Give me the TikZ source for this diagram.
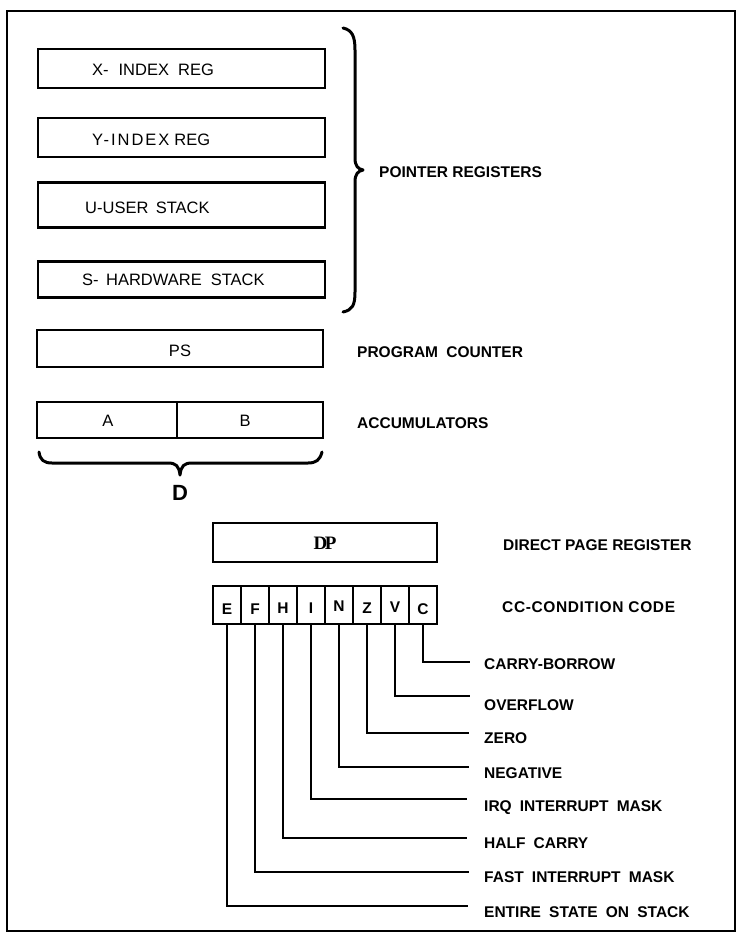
\documentclass[tikz,border=0pt]{standalone}
\usepackage{fontspec}
\setmainfont{Liberation Sans}
\newfontfamily\lblfont{Liberation Sans}[WordSpace=1.9]
\newfontfamily\spcfont{Liberation Sans}[LetterSpace=4]
\newfontfamily\wideregfont{Liberation Sans}[LetterSpace=12]
\newfontfamily\dpfont{Liberation Serif}
\begin{document}
\begin{tikzpicture}[x=1pt,y=-1pt,
  regbox/.style={draw, line width=2.8pt, inner sep=0pt},
  cell/.style={draw, line width=2.2pt, inner sep=0pt, minimum width=28pt, minimum height=38pt},
  celltxt/.style={font=\fontsize{15.5}{17}\selectfont\bfseries},
  regtxt/.style={anchor=west, inner sep=0pt, font=\fontsize{16.5}{19}\selectfont},
  ctxt/.style={inner sep=0pt, font=\fontsize{16.5}{19}\selectfont},
  lbl/.style={anchor=west, inner sep=0pt, font=\lblfont\fontsize{15.5}{18}\selectfont\bfseries},
  plainlbl/.style={anchor=west, inner sep=0pt, font=\fontsize{15.5}{18}\selectfont\bfseries},
  conn/.style={line width=1.5pt},
  bracepath/.style={line width=3pt, line cap=round, line join=round}]
\useasboundingbox (0,0) rectangle (737,934);
\fill[white] (0,0) rectangle (737,934);
% frame
\draw[line width=2.5pt] (7,11) rectangle (735,931);

% pointer registers
\node[regbox, minimum width=287pt, minimum height=39pt] (X) at (181.5,68.5) {};
\node[regbox, minimum width=287pt, minimum height=39pt] (Y) at (181.5,137.5) {};
\node[regbox, minimum width=287pt, minimum height=45pt] (U) at (181.5,205) {};
\node[regbox, minimum width=287pt, minimum height=36pt] (S) at (181.5,279.5) {};
\node[regtxt] (Xt) at (92,70) {X-\hspace{0.6em}INDEX\hspace{0.55em}REG};
\node[regtxt] (Yt) at (92,140) {{\wideregfont Y-INDEX}\hspace{0.3em}REG};
\node[regtxt] (Ut) at (85,208) {U-USER\hspace{0.45em}STACK};
\node[regtxt] (St) at (82,280) {S-\hspace{0.45em}HARDWARE\hspace{0.55em}STACK};

% right brace
\draw[bracepath] (343,28) .. controls (352,30) and (355,36) .. (355,50) -- (355,158)
  .. controls (355,166) and (358,169) .. (363,170)
  .. controls (358,171) and (355,174) .. (355,182) -- (355,292)
  .. controls (355,306) and (352,310) .. (343,312);
\node[plainlbl] (PR) at (379,172) {POINTER REGISTERS};

% program counter
\node[regbox, minimum width=286pt, minimum height=37pt] (PC) at (180,348.5) {};
\node[ctxt] (PSt) at (180,351) {PS};
\node[lbl] (PCl) at (357,352) {PROGRAM COUNTER};

% accumulators
\node[regbox, minimum width=140pt, minimum height=36pt] (A) at (107,420) {};
\node[regbox, minimum width=146pt, minimum height=36pt] (B) at (250,420) {};
\node[ctxt] (At) at (108,421) {A};
\node[ctxt] (Bt) at (245,421) {B};
\node[plainlbl] (ACl) at (357,423) {ACCUMULATORS};

% bottom brace
\draw[bracepath] (39,452) .. controls (40,460) and (44,463) .. (52,463) -- (168,463)
  .. controls (176,463) and (179,466) .. (180,475)
  .. controls (181,466) and (184,463) .. (192,463) -- (308,463)
  .. controls (316,463) and (320,460) .. (322,452);
\node[inner sep=0pt, font=\fontsize{22}{24}\selectfont\bfseries] (D) at (180,493) {D};

% direct page
\node[regbox, minimum width=224pt, minimum height=39pt] (DP) at (325,542.5) {};
\node[inner sep=0pt, font=\dpfont\fontsize{19}{21}\selectfont\bfseries] (DPt) at (325,543) {D\kern-2.5pt P};
\node[plainlbl] (DPl) at (503,545) {DIRECT PAGE REGISTER};

% condition code cells
\node[cell] (cE) at (227,605) {};
\node[cell] (cF) at (255,605) {};
\node[cell] (cH) at (283,605) {};
\node[cell] (cI) at (311,605) {};
\node[cell] (cN) at (339,605) {};
\node[cell] (cZ) at (367,605) {};
\node[cell] (cV) at (395,605) {};
\node[cell] (cC) at (423,605) {};
\node[celltxt] (tE) at (227,609) {E};
\node[celltxt] (tF) at (255,609) {F};
\node[celltxt] (tH) at (283,608) {H};
\node[celltxt] (tI) at (311,608) {I};
\node[celltxt] (tN) at (339,606) {N};
\node[celltxt] (tZ) at (367,608) {Z};
\node[celltxt] (tV) at (395,607) {V};
\node[celltxt] (tC) at (423,609) {C};
\node[anchor=west, inner sep=0pt, font=\spcfont\fontsize{15.5}{18}\selectfont\bfseries] (CCl) at (502,607) {CC-CONDITION CODE};

% flag lines
\coordinate (eC) at (470,662);
\coordinate (eV) at (470,696);
\coordinate (eZ) at (469,733);
\coordinate (eN) at (469,767);
\coordinate (eI) at (467,799);
\coordinate (eH) at (467,838);
\coordinate (eF) at (469,872);
\coordinate (eE) at (468,906);
\draw[conn] (cC.south) |- (eC);
\draw[conn] (cV.south) |- (eV);
\draw[conn] (cZ.south) |- (eZ);
\draw[conn] (cN.south) |- (eN);
\draw[conn] (cI.south) |- (eI);
\draw[conn] (cH.south) |- (eH);
\draw[conn] (cF.south) |- (eF);
\draw[conn] (cE.south) |- (eE);

\node[lbl] (lC) at (484,664) {CARRY-BORROW};
\node[lbl] (lV) at (484,705) {OVERFLOW};
\node[lbl] (lZ) at (484,738) {ZERO};
\node[lbl] (lN) at (484,773) {NEGATIVE};
\node[lbl] (lI) at (484,808) {IRQ INTERRUPT MASK};
\node[lbl] (lH) at (484,843) {HALF CARRY};
\node[lbl] (lF) at (484,877) {FAST INTERRUPT MASK};
\node[lbl] (lE) at (484,912) {ENTIRE STATE ON STACK};
\end{tikzpicture}
\end{document}
